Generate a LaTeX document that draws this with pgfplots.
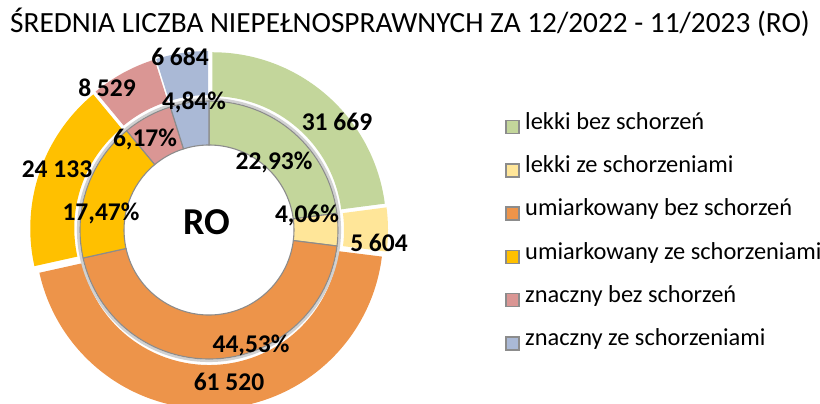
\documentclass[border=0pt]{standalone}
\usepackage{pgfplots}
\pgfplotsset{compat=1.18}
\usepackage{pgfplotstable}
\usepackage{fontspec}
\setmainfont{Carlito}
\definecolor{c0}{HTML}{C3D69B}
\definecolor{c1}{HTML}{FFE699}
\definecolor{c2}{HTML}{ED944A}
\definecolor{c3}{HTML}{FFC000}
\definecolor{c4}{HTML}{DA9694}
\definecolor{c5}{HTML}{AAB9D6}
\definecolor{edge}{HTML}{8C8C8C}
% value, position of value label (image px), position of percent label (image px)
\pgfplotstableread{
value vx vy px py
31669 337 122 274 162
5604 379 243 307 215
61520 229 382 251 345
24133 57 169 101 213
8529 107 88 145 139
6684 180 57 194 102
}\data
\begin{document}
\begin{tikzpicture}
\begin{axis}[width=820bp,height=403bp,scale only axis,
  xmin=0,xmax=820,ymin=0,ymax=403,hide axis,
  /pgf/number format/assume math mode=true]
\def\cx{209}\def\cy{173}
\def\Rh{85}\def\Rin{129}\def\Rm{130}\def\Ro{174}\def\ex{5}
% total
\def\tot{0}
\pgfplotsforeachungrouped \i in {0,...,5}{%
  \pgfplotstablegetelem{\i}{value}\of\data
  \edef\tot{\fpeval{\tot+\pgfplotsretval}}%
}
% outer ring (exploded)
\def\cum{0}
\pgfplotsforeachungrouped \i in {0,...,5}{%
  \pgfplotstablegetelem{\i}{value}\of\data
  \edef\v{\pgfplotsretval}%
  \edef\aS{\fpeval{90-360*\cum/\tot}}%
  \edef\cum{\fpeval{\cum+\v}}%
  \edef\aE{\fpeval{90-360*\cum/\tot}}%
  \edef\aM{\fpeval{(\aS+\aE)/2}}%
  \edef\oX{\fpeval{\cx+\ex*cosd(\aM)}}%
  \edef\oY{\fpeval{\cy+\ex*sind(\aM)}}%
  \edef\pAx{\fpeval{\oX+\Ro*cosd(\aS)}}%
  \edef\pAy{\fpeval{\oY+\Ro*sind(\aS)}}%
  \edef\pBx{\fpeval{\oX+\Rm*cosd(\aE)}}%
  \edef\pBy{\fpeval{\oY+\Rm*sind(\aE)}}%
  \edef\temp{\noexpand\fill[c\i] (axis cs:\pAx,\pAy) arc[start angle=\aS,end angle=\aE,radius=\Ro bp] -- (axis cs:\pBx,\pBy) arc[start angle=\aE,end angle=\aS,radius=\Rm bp] -- cycle;}%
  \temp
}
% shadow of inner ring
\draw[black!18,line width=2.5bp] (axis cs:\cx,\cy) circle[radius=130.8bp];
\draw[black!12,line width=2.5bp] (axis cs:\cx,\cy) circle[radius=86.5bp];
% inner ring
\def\cum{0}
\pgfplotsforeachungrouped \i in {0,...,5}{%
  \pgfplotstablegetelem{\i}{value}\of\data
  \edef\v{\pgfplotsretval}%
  \edef\aS{\fpeval{90-360*\cum/\tot}}%
  \edef\cum{\fpeval{\cum+\v}}%
  \edef\aE{\fpeval{90-360*\cum/\tot}}%
  \edef\pAx{\fpeval{\cx+\Rin*cosd(\aS)}}%
  \edef\pAy{\fpeval{\cy+\Rin*sind(\aS)}}%
  \edef\pBx{\fpeval{\cx+\Rh*cosd(\aE)}}%
  \edef\pBy{\fpeval{\cy+\Rh*sind(\aE)}}%
  \edef\temp{\noexpand\filldraw[fill=c\i,draw=edge,line width=1.1bp] (axis cs:\pAx,\pAy) arc[start angle=\aS,end angle=\aE,radius=\Rin bp] -- (axis cs:\pBx,\pBy) arc[start angle=\aE,end angle=\aS,radius=\Rh bp] -- cycle;}%
  \temp
}
% labels
\pgfplotsforeachungrouped \i in {0,...,5}{%
  \pgfplotstablegetelem{\i}{value}\of\data \edef\v{\pgfplotsretval}%
  \pgfplotstablegetelem{\i}{vx}\of\data \edef\vx{\pgfplotsretval}%
  \pgfplotstablegetelem{\i}{vy}\of\data \edef\vy{\fpeval{403-\pgfplotsretval}}%
  \pgfplotstablegetelem{\i}{px}\of\data \edef\px{\pgfplotsretval}%
  \pgfplotstablegetelem{\i}{py}\of\data \edef\py{\fpeval{403-\pgfplotsretval}}%
  \edef\pct{\fpeval{100*\v/\tot}}%
  \edef\temp{\noexpand\node[font=\noexpand\bfseries\noexpand\fontsize{25.5bp}{27bp}\noexpand\selectfont,inner sep=0pt] at (axis cs:\vx,\vy) {\noexpand\pgfmathprintnumber[fixed,precision=0,1000 sep={\noexpand\ }]{\v}};
  \noexpand\node[font=\noexpand\bfseries\noexpand\fontsize{25.5bp}{27bp}\noexpand\selectfont,inner sep=0pt] at (axis cs:\px,\py) {\noexpand\pgfmathprintnumber[fixed,fixed zerofill,precision=2,use comma]{\pct}\noexpand\%};}%
  \temp
}
\node[font=\bfseries\fontsize{38bp}{40bp}\selectfont,inner sep=0pt] at (axis cs:207,181) {RO};
% title
\node[font=\fontsize{29.3bp}{31bp}\selectfont,inner sep=0pt] at (axis cs:410,381) {ŚREDNIA LICZBA NIEPEŁNOSPRAWNYCH ZA 12/2022 - 11/2023 (RO)};
% legend
\pgfplotsforeachungrouped \i/\nm in {0/lekki bez schorzeń,1/lekki ze schorzeniami,2/umiarkowany bez schorzeń,3/umiarkowany ze schorzeniami,4/znaczny bez schorzeń,5/znaczny ze schorzeniami}{%
  \edef\ly{\fpeval{276-43.3*\i}}%
  \edef\lyA{\fpeval{\ly-6.5}}\edef\lyB{\fpeval{\ly+6.5}}%
  \edef\temp{\noexpand\filldraw[fill=c\i,draw=edge,line width=1.5bp] (axis cs:506,\lyA) rectangle (axis cs:519,\lyB);
  \noexpand\node[anchor=mid west,inner sep=0pt,font=\noexpand\fontsize{24.4bp}{26bp}\noexpand\selectfont] at (axis cs:525,\ly) {\nm};}%
  \temp
}
\end{axis}
\pgfresetboundingbox
\path[use as bounding box] (current axis.south west) rectangle (current axis.north east);
\end{tikzpicture}
\end{document}
